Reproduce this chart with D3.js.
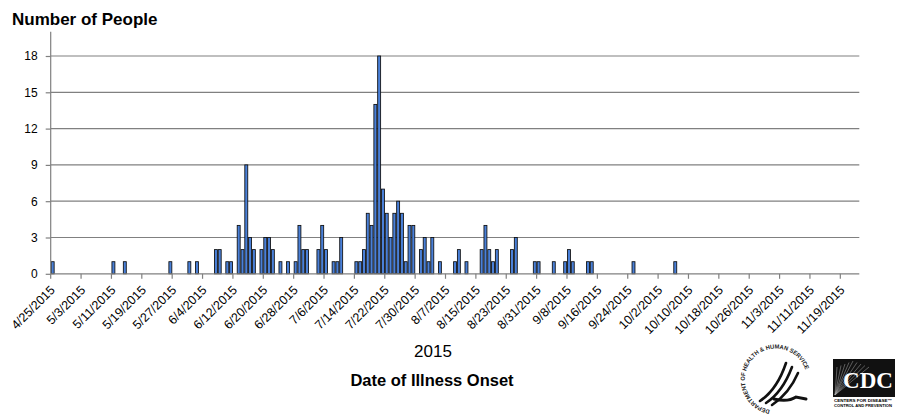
<!DOCTYPE html>
<html>
<head>
<meta charset="utf-8">
<script src="https://cdn.jsdelivr.net/npm/d3@7"></script>
<style>
  body { margin: 0; background: #fff; }
  svg { display: block; font-family: "Liberation Sans", Arial, sans-serif; }
</style>
</head>
<body>
<svg id="chart" width="897" height="415"></svg>
<script>
// onset dates and case counts
const onsetDates = [
  '4/25/2015', '5/11/2015', '5/14/2015', '5/26/2015', '5/31/2015', '6/2/2015',
  '6/7/2015', '6/8/2015', '6/10/2015', '6/11/2015', '6/13/2015', '6/14/2015',
  '6/15/2015', '6/16/2015', '6/17/2015', '6/19/2015', '6/20/2015', '6/21/2015',
  '6/22/2015', '6/24/2015', '6/26/2015', '6/28/2015', '6/29/2015', '6/30/2015',
  '7/1/2015', '7/4/2015', '7/5/2015', '7/6/2015', '7/8/2015', '7/9/2015',
  '7/10/2015', '7/14/2015', '7/15/2015', '7/16/2015', '7/17/2015', '7/18/2015',
  '7/19/2015', '7/20/2015', '7/21/2015', '7/22/2015', '7/23/2015', '7/24/2015',
  '7/25/2015', '7/26/2015', '7/27/2015', '7/28/2015', '7/29/2015', '7/31/2015',
  '8/1/2015', '8/2/2015', '8/3/2015', '8/5/2015', '8/9/2015', '8/10/2015',
  '8/12/2015', '8/16/2015', '8/17/2015', '8/18/2015', '8/19/2015', '8/20/2015',
  '8/24/2015', '8/25/2015', '8/30/2015', '8/31/2015', '9/4/2015', '9/7/2015',
  '9/8/2015', '9/9/2015', '9/13/2015', '9/14/2015', '9/25/2015', '10/6/2015'
]
const counts = [
  1, 1, 1, 1, 1, 1,
  2, 2, 1, 1, 4, 2,
  9, 3, 2, 2, 3, 3,
  2, 1, 1, 1, 4, 2,
  2, 2, 4, 2, 1, 1,
  3, 1, 1, 2, 5, 4,
  14, 18, 7, 5, 3, 5,
  6, 5, 1, 4, 4, 2,
  3, 1, 3, 1, 1, 2,
  1, 2, 4, 2, 1, 2,
  2, 3, 1, 1, 1, 1,
  2, 1, 1, 1, 1, 1
]
const yTicks = [0, 3, 6, 9, 12, 15, 18]
const axisStart = '4/25/2015'
const axisEnd = '11/24/2015'   // exclusive
const tickEvery = 8            // days between labels
const lastLabel = '11/19/2015'

const parse = d3.timeParse('%m/%d/%Y')
const fmt = d3.timeFormat('%-m/%-d/%Y')

const svg = d3.select('#chart')
const plotL = 50.7, plotR = 859.3, plotT = 31.8, plotB = 273.8

// every day on the axis is one band
const days = d3.timeDay.range(parse(axisStart), parse(axisEnd)).map(fmt)
const x = d3.scaleBand().domain(days).range([plotL, plotR]).paddingInner(0).paddingOuter(0)
const y = d3.scaleLinear().domain([0, 20]).range([plotB, plotT])

const lastIdx = days.indexOf(lastLabel)
const tickDays = days.filter((d, i) => i % tickEvery === 0 && i <= lastIdx)

// gridlines
svg.append('g')
  .selectAll('line')
  .data(yTicks.filter(d => d > 0))
  .enter().append('line')
    .attr('x1', plotL).attr('x2', plotR)
    .attr('y1', d => y(d)).attr('y2', d => y(d))
    .attr('stroke', '#808080').attr('stroke-width', 1.2)

// bars
const bw = x.bandwidth() - 0.45
svg.append('g')
  .selectAll('rect')
  .data(onsetDates.map((d, i) => ({ date: fmt(parse(d)), n: counts[i] })))
  .enter().append('rect')
    .attr('x', d => x(d.date) + 0.5)
    .attr('y', d => y(d.n))
    .attr('width', bw - 0.4)
    .attr('height', d => y(0) - y(d.n))
    .attr('fill', '#4a80d8')
    .attr('stroke', '#0d0d0d')
    .attr('stroke-width', 0.85)

// y axis
const yAxis = svg.append('g').attr('transform', 'translate(' + plotL + ',0)')
  .call(d3.axisLeft(y).tickValues(yTicks).tickSize(5).tickSizeOuter(0).tickPadding(8))
yAxis.select('.domain').attr('d', 'M0,' + plotT + 'V' + plotB)
yAxis.selectAll('path,line').attr('stroke', '#808080').attr('stroke-width', 1.2)
yAxis.selectAll('text').attr('font-size', 12).attr('fill', '#000')
  .attr('font-family', '"Liberation Sans", Arial, sans-serif')

// x axis with ticks at the start of each 8th day
const xAxis = svg.append('g').attr('transform', 'translate(0,' + plotB + ')')
xAxis.append('line').attr('x1', plotL).attr('x2', plotR)
  .attr('stroke', '#808080').attr('stroke-width', 1.2)
xAxis.selectAll('line.tk')
  .data(tickDays)
  .enter().append('line')
    .attr('class', 'tk')
    .attr('x1', d => x(d)).attr('x2', d => x(d))
    .attr('y1', 0).attr('y2', 5)
    .attr('stroke', '#808080').attr('stroke-width', 1.2)
xAxis.selectAll('text')
  .data(tickDays)
  .enter().append('text')
    .attr('transform', d => 'translate(' + (x(d) + 5) + ',17) rotate(-45)')
    .attr('text-anchor', 'end')
    .attr('font-size', 12.5)
    .attr('fill', '#000')
    .text(d => d)

// titles
svg.append('text').attr('x', 12).attr('y', 25)
  .attr('font-size', 17).attr('font-weight', 'bold')
  .text('Number of People')
svg.append('text').attr('x', 433).attr('y', 357)
  .attr('text-anchor', 'middle').attr('font-size', 17)
  .text('2015')
svg.append('text').attr('x', 432).attr('y', 386)
  .attr('text-anchor', 'middle').attr('font-size', 16.5).attr('font-weight', 'bold')
  .text('Date of Illness Onset')

// HHS seal (rough)
const hhs = svg.append('g').attr('transform', 'translate(776,379)')
hhs.append('path').attr('id', 'sealArc')
  .attr('d', 'M-6,31 A31,31 0 1,1 29,-10')
  .attr('fill', 'none')
hhs.append('text')
  .attr('font-size', 6).attr('font-weight', 'bold').attr('fill', '#222')
  .append('textPath').attr('href', '#sealArc')
  .attr('textLength', 148).attr('lengthAdjust', 'spacingAndGlyphs')
  .text('DEPARTMENT OF HEALTH & HUMAN SERVICES\u00b7USA')
const eagle = [
  'M-16,22 C-4,14 4,2 10,-16',
  'M-10,24 C2,16 10,4 16,-12',
  'M-4,26 C8,18 16,8 22,-6',
  'M-2,20 C6,22 14,22 20,18 L30,20'
]
hhs.selectAll('path.e')
  .data(eagle)
  .enter().append('path')
    .attr('class', 'e')
    .attr('d', d => d)
    .attr('fill', 'none').attr('stroke', '#111')
    .attr('stroke-width', (d, i) => i === 3 ? 3 : 2.6)
    .attr('stroke-linecap', 'round')

// CDC logo (rough)
const cdc = svg.append('g').attr('transform', 'translate(833,359)')
cdc.append('rect').attr('width', 62).attr('height', 38).attr('fill', '#111')
cdc.selectAll('line.ray')
  .data(d3.range(9))
  .enter().append('line')
    .attr('class', 'ray')
    .attr('x1', 2).attr('y1', 36)
    .attr('x2', i => 4 + i * 4).attr('y2', i => 2 + Math.abs(4 - i) * 1.5)
    .attr('stroke', '#aaa').attr('stroke-width', 0.5)
cdc.append('text').attr('x', 35).attr('y', 29)
  .attr('text-anchor', 'middle').attr('font-size', 23).attr('font-weight', 'bold')
  .attr('font-family', '"Liberation Serif", serif').attr('fill', '#fff')
  .text('CDC')
cdc.append('text').attr('x', 1).attr('y', 43)
  .attr('font-size', 4).attr('font-weight', 'bold')
  .attr('textLength', 58).attr('lengthAdjust', 'spacingAndGlyphs')
  .text('CENTERS FOR DISEASE\u2122')
cdc.append('text').attr('x', 1).attr('y', 48)
  .attr('font-size', 4).attr('font-weight', 'bold')
  .attr('textLength', 58).attr('lengthAdjust', 'spacingAndGlyphs')
  .text('CONTROL AND PREVENTION')
</script>
</body>
</html>
